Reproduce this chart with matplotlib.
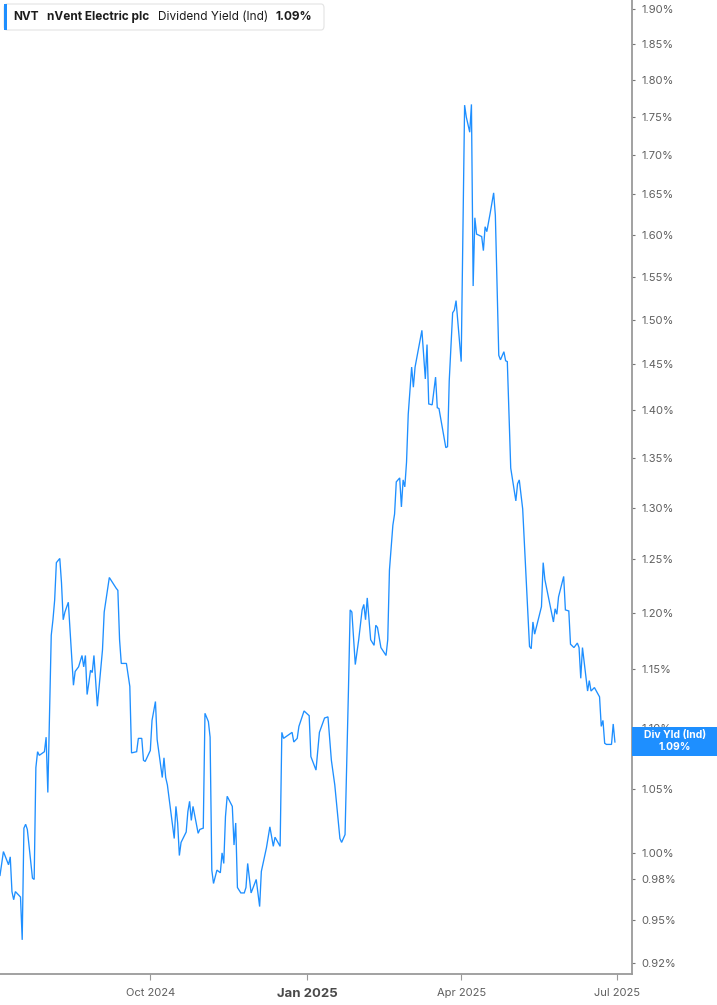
import matplotlib
matplotlib.use("Agg")
import matplotlib.pyplot as plt
import matplotlib.dates as mdates
from matplotlib.patches import FancyBboxPatch, Rectangle
from matplotlib.ticker import FixedLocator, NullLocator, FuncFormatter
import pandas as pd

plt.rcParams['font.family'] = ['Inter', 'DejaVu Sans']

# NVT dividend yield (ind), %
dates = [
    '2024-07-05', '2024-07-07', '2024-07-10', '2024-07-11', '2024-07-12', '2024-07-13', '2024-07-14',
    '2024-07-17', '2024-07-18', '2024-07-19', '2024-07-20', '2024-07-21', '2024-07-24', '2024-07-25',
    '2024-07-26', '2024-07-27', '2024-07-28', '2024-07-31', '2024-08-01', '2024-08-02', '2024-08-04',
    '2024-08-05', '2024-08-06', '2024-08-07', '2024-08-09', '2024-08-10', '2024-08-11', '2024-08-12',
    '2024-08-14', '2024-08-15', '2024-08-17', '2024-08-18', '2024-08-20', '2024-08-22', '2024-08-23',
    '2024-08-24', '2024-08-25', '2024-08-26', '2024-08-27', '2024-08-28', '2024-08-29', '2024-08-31',
    '2024-09-03', '2024-09-04', '2024-09-07', '2024-09-11', '2024-09-12', '2024-09-13', '2024-09-14',
    '2024-09-17', '2024-09-19', '2024-09-20', '2024-09-23', '2024-09-24', '2024-09-26', '2024-09-27',
    '2024-09-28', '2024-10-01', '2024-10-02', '2024-10-04', '2024-10-05', '2024-10-08', '2024-10-09',
    '2024-10-10', '2024-10-11', '2024-10-15', '2024-10-16', '2024-10-17', '2024-10-18', '2024-10-19',
    '2024-10-22', '2024-10-23', '2024-10-24', '2024-10-25', '2024-10-26', '2024-10-29', '2024-10-30',
    '2024-11-01', '2024-11-02', '2024-11-04', '2024-11-05', '2024-11-06', '2024-11-07', '2024-11-09',
    '2024-11-11', '2024-11-12', '2024-11-13', '2024-11-14', '2024-11-15', '2024-11-18', '2024-11-19',
    '2024-11-20', '2024-11-21', '2024-11-23', '2024-11-25', '2024-11-26', '2024-11-27', '2024-11-29',
    '2024-12-02', '2024-12-04', '2024-12-05', '2024-12-08', '2024-12-10', '2024-12-12', '2024-12-13',
    '2024-12-16', '2024-12-17', '2024-12-18', '2024-12-23', '2024-12-24', '2024-12-26', '2024-12-27',
    '2024-12-30', '2025-01-02', '2025-01-03', '2025-01-06', '2025-01-08', '2025-01-11', '2025-01-13',
    '2025-01-15', '2025-01-17', '2025-01-20', '2025-01-21', '2025-01-23', '2025-01-25', '2025-01-26',
    '2025-01-27', '2025-01-29', '2025-01-31', '2025-02-02', '2025-02-03', '2025-02-04', '2025-02-05',
    '2025-02-07', '2025-02-09', '2025-02-10', '2025-02-11', '2025-02-13', '2025-02-16', '2025-02-17',
    '2025-02-18', '2025-02-20', '2025-02-21', '2025-02-22', '2025-02-24', '2025-02-25', '2025-02-26',
    '2025-02-27', '2025-02-28', '2025-03-01', '2025-03-03', '2025-03-04', '2025-03-05', '2025-03-09',
    '2025-03-11', '2025-03-12', '2025-03-13', '2025-03-15', '2025-03-17', '2025-03-18', '2025-03-19',
    '2025-03-23', '2025-03-24', '2025-03-25', '2025-03-27', '2025-03-28', '2025-03-29', '2025-04-01',
    '2025-04-03', '2025-04-04', '2025-04-06', '2025-04-07', '2025-04-08', '2025-04-09', '2025-04-10',
    '2025-04-13', '2025-04-14', '2025-04-15', '2025-04-16', '2025-04-18', '2025-04-20', '2025-04-21',
    '2025-04-23', '2025-04-24', '2025-04-26', '2025-04-27', '2025-04-28', '2025-04-30', '2025-05-03',
    '2025-05-04', '2025-05-05', '2025-05-07', '2025-05-11', '2025-05-12', '2025-05-13', '2025-05-14',
    '2025-05-18', '2025-05-19', '2025-05-20', '2025-05-25', '2025-05-26', '2025-05-27', '2025-05-28',
    '2025-05-31', '2025-06-01', '2025-06-03', '2025-06-04', '2025-06-06', '2025-06-08', '2025-06-09',
    '2025-06-10', '2025-06-11', '2025-06-14', '2025-06-15', '2025-06-16', '2025-06-18', '2025-06-21',
    '2025-06-22', '2025-06-23', '2025-06-24', '2025-06-25', '2025-06-28', '2025-06-29', '2025-06-30',
]
yields = [
    0.983, 1.001, 0.991, 0.997, 0.971, 0.965, 0.971,
    0.967, 0.936, 1.019, 1.022, 1.018, 0.981, 0.980,
    1.067, 1.080, 1.077, 1.080, 1.092, 1.047, 1.180,
    1.194, 1.212, 1.247, 1.251, 1.228, 1.194, 1.201,
    1.210, 1.185, 1.136, 1.148, 1.152, 1.162, 1.152,
    1.162, 1.128, 1.138, 1.149, 1.147, 1.162, 1.118,
    1.167, 1.201, 1.233, 1.223, 1.221, 1.176, 1.155,
    1.155, 1.135, 1.079, 1.080, 1.091, 1.091, 1.073,
    1.072, 1.081, 1.106, 1.122, 1.090, 1.059, 1.075,
    1.059, 1.053, 1.011, 1.036, 1.023, 0.998, 1.008,
    1.016, 1.032, 1.040, 1.025, 1.036, 1.015, 1.018,
    1.019, 1.112, 1.105, 1.092, 0.987, 0.977, 0.987,
    0.985, 1.000, 0.992, 1.028, 1.044, 1.036, 1.006,
    1.023, 0.974, 0.970, 0.970, 0.974, 0.992, 0.970,
    0.980, 0.960, 0.986, 1.004, 1.020, 1.005, 1.012,
    1.005, 1.096, 1.091, 1.096, 1.088, 1.091, 1.101,
    1.114, 1.110, 1.076, 1.065, 1.096, 1.108, 1.109,
    1.073, 1.053, 1.011, 1.008, 1.014, 1.132, 1.203,
    1.201, 1.154, 1.176, 1.203, 1.208, 1.194, 1.214,
    1.176, 1.171, 1.189, 1.187, 1.169, 1.162, 1.176,
    1.240, 1.283, 1.294, 1.326, 1.330, 1.301, 1.328,
    1.321, 1.346, 1.396, 1.447, 1.425, 1.447, 1.488,
    1.434, 1.472, 1.407, 1.406, 1.436, 1.403, 1.402,
    1.361, 1.362, 1.432, 1.508, 1.511, 1.522, 1.453,
    1.766, 1.750, 1.730, 1.767, 1.539, 1.621, 1.601,
    1.598, 1.581, 1.610, 1.604, 1.627, 1.652, 1.624,
    1.460, 1.455, 1.464, 1.454, 1.453, 1.340, 1.307,
    1.324, 1.328, 1.299, 1.170, 1.168, 1.192, 1.181,
    1.206, 1.247, 1.231, 1.192, 1.204, 1.199, 1.215,
    1.234, 1.203, 1.202, 1.172, 1.169, 1.173, 1.169,
    1.142, 1.169, 1.131, 1.140, 1.131, 1.134, 1.126,
    1.101, 1.106, 1.087, 1.086, 1.086, 1.103, 1.088,
]

y_ticks = [0.92, 0.95, 0.98, 1.00, 1.05, 1.10, 1.15, 1.20, 1.25, 1.30, 1.35, 1.40,
           1.45, 1.50, 1.55, 1.60, 1.65, 1.70, 1.75, 1.80, 1.85, 1.90]
x_ticks = ['2024-10-01', '2025-01-01', '2025-04-01', '2025-07-01']
x_labels = ['Oct 2024', 'Jan 2025', 'Apr 2025', 'Jul 2025']
last_value = 1.09

W, H = 717, 1005
LINE = '#1e8fff'
GRID = '#9a9a9a'
TXT = '#5f5f5f'


def fx(px):
    return px / W


def fy(py):
    return 1 - py / H


fig = plt.figure(figsize=(W / 100, H / 100), dpi=100)
ax = fig.add_axes([0, fy(974), fx(632), fy(0) - fy(974)])

x = pd.to_datetime(dates)
ax.plot(x, yields, color=LINE, lw=0.95, solid_joinstyle='miter')

ax.set_yscale('log')
ax.set_ylim(0.912, 1.913)
ax.set_xlim(pd.Timestamp('2024-07-05'), pd.Timestamp('2025-07-10'))

ax.yaxis.tick_right()
ax.yaxis.set_major_locator(FixedLocator(y_ticks))
ax.yaxis.set_minor_locator(NullLocator())
ax.yaxis.set_major_formatter(FuncFormatter(lambda v, p: f'{v:.2f}%'))
ax.tick_params(axis='y', which='major', length=2.5, width=0.8, color='#777777',
               labelsize=8, labelcolor=TXT, pad=4)

ax.set_xticks(pd.to_datetime(x_ticks))
ax.set_xticklabels(x_labels)
ax.tick_params(axis='x', length=4, width=0.8, color='#999999', labelsize=8,
               labelcolor=TXT, pad=6)
for lbl in ax.get_xticklabels():
    if lbl.get_text().startswith('Jan'):
        lbl.set_fontweight('bold')
        lbl.set_fontsize(9.5)
        lbl.set_color('#4a4a4a')

for side in ['left', 'top']:
    ax.spines[side].set_visible(False)
for side in ['right', 'bottom']:
    ax.spines[side].set_color(GRID)
    ax.spines[side].set_linewidth(1.3)

# header box
hdr = FancyBboxPatch((fx(4), fy(30)), fx(324) - fx(4), fy(4) - fy(30),
                     boxstyle='round,pad=0,rounding_size=0.004',
                     transform=fig.transFigure, facecolor='white',
                     edgecolor='#e3e3e3', lw=0.8, zorder=3)
fig.patches.append(hdr)
fig.patches.append(Rectangle((fx(4), fy(30)), fx(7) - fx(4), fy(4) - fy(30),
                             transform=fig.transFigure, facecolor=LINE,
                             edgecolor='none', zorder=4))
hy = fy(17)
fig.text(fx(13), hy, 'NVT', fontsize=8.5, fontweight='bold', color='#1c1c1c', va='center', zorder=5)
fig.text(fx(47), hy, 'nVent Electric plc', fontsize=8.5, fontweight='bold', color='#1c1c1c', va='center', zorder=5)
fig.text(fx(158), hy, 'Dividend Yield (Ind)', fontsize=8.5, color='#1c1c1c', va='center', zorder=5)
fig.text(fx(275), hy, f'{last_value:.2f}%', fontsize=8.5, fontweight='bold', color='#1c1c1c', va='center', zorder=5)

# last value flag on the right axis
fig.patches.append(Rectangle((fx(632), fy(756)), fx(717) - fx(632), fy(727) - fy(756),
                             transform=fig.transFigure, facecolor=LINE,
                             edgecolor='none', zorder=4))
fig.text(fx(675), fy(735), 'Div Yld (Ind)', fontsize=7.5, fontweight='bold', color='white',
         ha='center', va='center', zorder=5)
fig.text(fx(675), fy(747), f'{last_value:.2f}%', fontsize=7.5, fontweight='bold', color='white',
         ha='center', va='center', zorder=5)

fig.savefig('out.png', dpi=100)
